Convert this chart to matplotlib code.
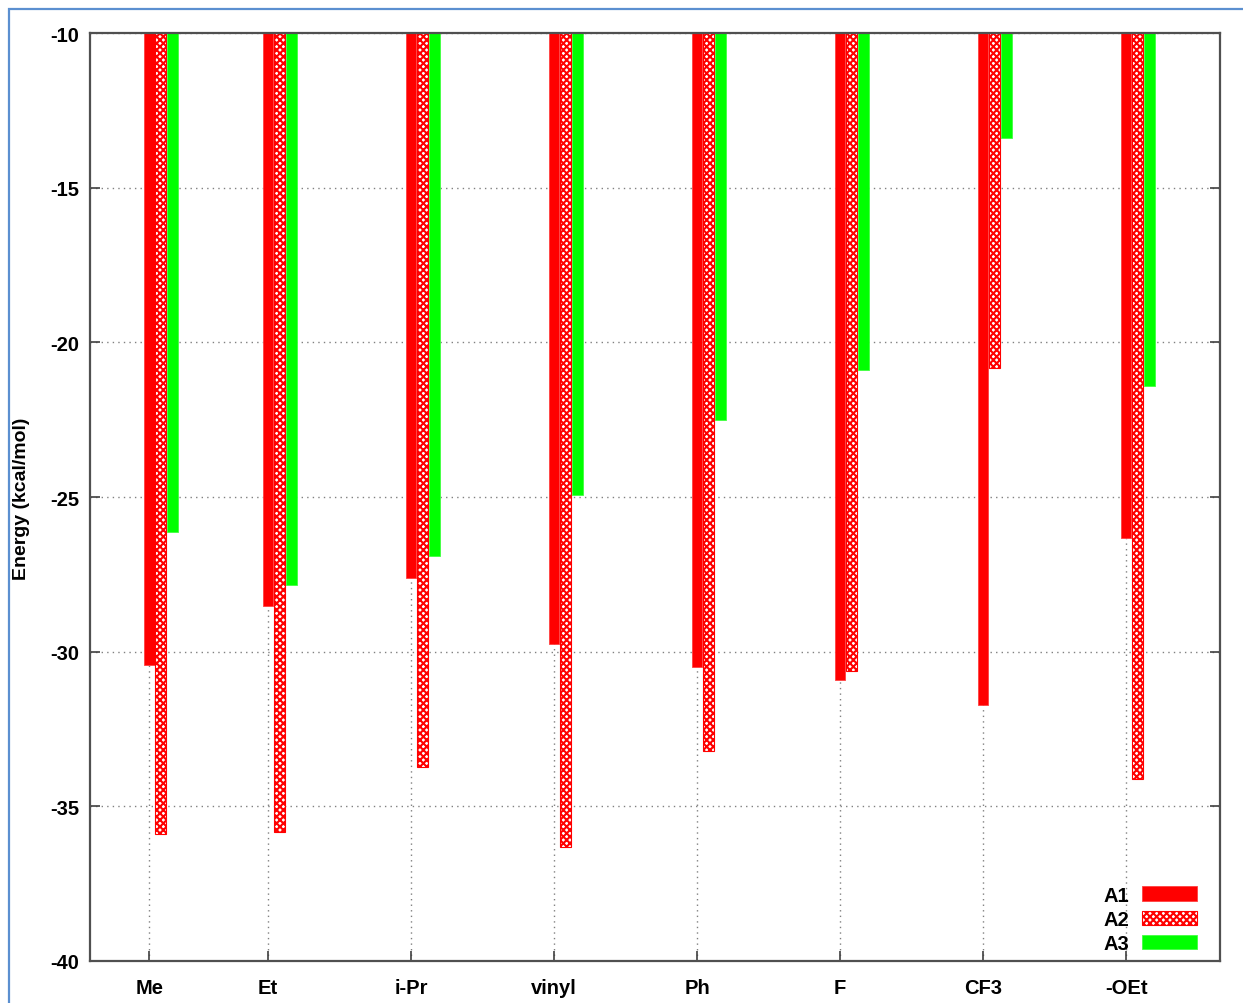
import numpy as np
import matplotlib.pyplot as plt
from matplotlib.patches import Rectangle

plt.rcParams['font.family'] = ['Liberation Sans', 'DejaVu Sans']
plt.rcParams['hatch.linewidth'] = 1.5

# --- data ---
groups = ['Me', 'Et', 'i-Pr', 'vinyl', 'Ph', 'F', 'CF3', '-OEt']
group_x = [0.17, 1, 2, 3, 4, 5, 6, 7]
a1 = [-30.43, -28.53, -27.62, -29.75, -30.50, -30.92, -31.73, -26.33]
a2 = [-35.90, -35.83, -33.73, -36.32, -33.21, -30.63, -20.83, -34.12]
a3 = [-26.13, -27.85, -26.91, -24.94, -22.51, -20.90, -13.39, -21.41]
series_names = ['A1', 'A2', 'A3']
yticks = [-10, -15, -20, -25, -30, -35, -40]

TOP = -10
W = 1243
H = 1004

fig = plt.figure(figsize=(W / 100, H / 100), dpi=100)
ax = fig.add_axes([90 / W, 1 - 962 / H, (1220 - 90) / W, (962 - 34) / H])

x = np.array(group_x)
bw = 0.074
offsets = [0.0, 0.080, 0.163]

# bars hang down from the top of the range
heights1 = np.array(a1) - TOP
heights2 = np.array(a2) - TOP
heights3 = np.array(a3) - TOP
ax.bar(x + offsets[0], heights1, bw, bottom=TOP, color='#ff0000',
       edgecolor='#ff4040', linewidth=0.6, label=series_names[0], zorder=2)
ax.bar(x + offsets[1], heights2, bw, bottom=TOP, facecolor='white',
       edgecolor='#ff0000', hatch='xxxxx', linewidth=0.8,
       label=series_names[1], zorder=2)
ax.bar(x + offsets[2], heights3, bw, bottom=TOP, color='#00ff00',
       edgecolor='#40ff40', linewidth=0.6, label=series_names[2], zorder=2)

ax.set_xlim(-0.245, 7.657)
ax.set_ylim(-40, -10)
ax.set_yticks(yticks)
ax.set_yticklabels([str(t) for t in yticks], fontweight='bold', fontsize=14.5)
ax.set_xticks(x)
ax.set_xticklabels(groups, fontweight='bold', fontsize=14.5)
ax.tick_params(direction='in', length=7, width=1.2, color='#404040',
               top=True, right=True, pad=8)
ax.tick_params(axis='x', pad=12)

ax.grid(True, linestyle=(0, (1, 3)), color='#808080', linewidth=1.0, zorder=0)
ax.set_axisbelow(True)
for sp in ax.spines.values():
    sp.set_color('#505050')
    sp.set_linewidth(1.6)

fig.text(22 / W, 1 - 499 / H, 'Energy (kcal/mol)', rotation=90,
         ha='center', va='center', fontsize=14, fontweight='bold')

leg = ax.legend(loc='lower right', frameon=False, markerfirst=False,
                prop={'weight': 'bold', 'size': 14.5}, handlelength=2.75,
                handleheight=0.7, labelspacing=0.25, handletextpad=0.6,
                borderpad=0, borderaxespad=0,
                bbox_to_anchor=(0.9796, 0.009))

# outer blue frame
fig.patches.append(Rectangle((9 / W, -0.1), 1.2, 1 - 10 / H + 0.1,
                             transform=fig.transFigure, fill=False,
                             edgecolor='#5b8fd0', linewidth=1.6))

fig.savefig('out.png', dpi=100)
